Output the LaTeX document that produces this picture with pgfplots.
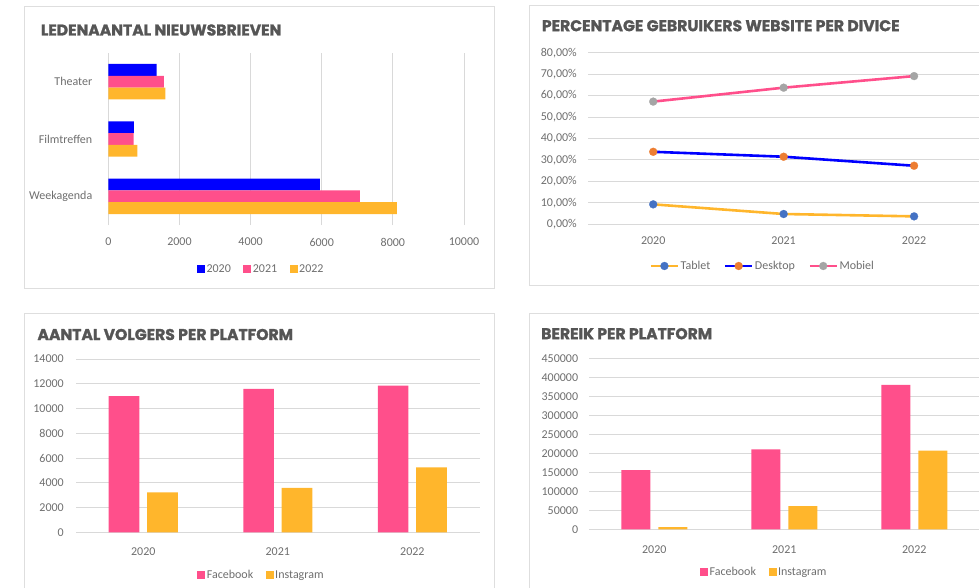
\documentclass[border=0pt]{standalone}
\usepackage{pgfplots}
\pgfplotsset{compat=1.18}
\usepackage{fontspec}
\setmainfont{Carlito}
\newfontfamily\titlefont{Poppins}[BoldFeatures={FakeBold=1.4}]
\definecolor{cblue}{RGB}{0,0,255}
\definecolor{cpink}{RGB}{255,79,139}
\definecolor{cyellow}{RGB}{255,182,44}
\definecolor{mblue}{RGB}{68,114,196}
\definecolor{morange}{RGB}{237,125,49}
\definecolor{mgray}{RGB}{165,165,165}
\definecolor{gridgray}{RGB}{217,217,217}
\definecolor{framegray}{RGB}{222,222,222}
\definecolor{labelgray}{RGB}{110,110,110}
\definecolor{titlegray}{RGB}{85,85,85}
\pgfplotsset{
  base/.style={scale only axis, anchor=south west,
    axis line style={draw=none}, tick style={draw=none},
    grid style={draw=gridgray, line width=1pt},
    tick label style={font=\fontsize{12}{14}\selectfont, text=labelgray, inner sep=0pt},
    /pgf/number format/assume math mode=true,
    /pgf/number format/1000 sep={},
    scaled ticks=false,
    legend style={draw=none, fill=none, inner sep=0pt, font=\fontsize{12}{14}\selectfont,
      text=labelgray, anchor=center, /tikz/every even column/.append style={column sep=11pt},
      nodes={inner sep=1.5pt}},
    legend columns=-1,
  },
  sq/.style={legend image code/.code={\fill[##1, draw=none] (0pt,-4pt) rectangle (8pt,4pt);}},
  ln/.style={legend image code/.code={\draw[mark repeat=2,mark phase=2,##1] plot coordinates {(0pt,0pt)(13.5pt,0pt)(27pt,0pt)};}},
}
\tikzset{ttl/.style={anchor=west, inner sep=0pt, text=titlegray, font=\titlefont\bfseries\fontsize{15.6}{17}\selectfont}}
\begin{document}
\begin{tikzpicture}[x=1pt,y=1pt]
\useasboundingbox (0,0) rectangle (979,587);
% frames
\draw[framegray, line width=1pt] (24,580.3) rectangle (494,298.7);
\draw[framegray, line width=1pt] (529.3,581) rectangle (995,301.3);
\draw[framegray, line width=1pt] (24,274) rectangle (494,-10);
\draw[framegray, line width=1pt] (529.3,274) rectangle (995,-10);
% titles
\node[ttl] at (40.7,557) {LEDENAANTAL NIEUWSBRIEVEN};
\node[ttl] at (541.7,561.3) {PERCENTAGE GEBRUIKERS WEBSITE PER DIVICE};
\node[ttl] at (37.3,252.5) {AANTAL VOLGERS PER PLATFORM};
\node[ttl] at (541,253.3) {BEREIK PER PLATFORM};

% chart 1
\begin{axis}[base, at={(108.3pt,362pt)}, width=355.7pt, height=172pt,
  xbar, bar width=11.8pt, sq,
  xmin=0, xmax=10000, ymin=-0.5, ymax=2.5,
  ytick={0,1,2}, yticklabels={Weekagenda,Filmtreffen,Theater},
  xtick={0,2000,4000,6000,8000,10000},
  xmajorgrids,
  yticklabel style={anchor=east, xshift=-11.6pt},
  xticklabel style={anchor=center, yshift=-17pt},
  legend style={at={(0.4293,-0.2558)}},
]
\addplot[fill=cblue, draw=none, bar shift=11.8pt] coordinates {(5950,0) (720,1) (1360,2)};
\addplot[fill=cpink, draw=none, bar shift=0pt] coordinates {(7070,0) (715,1) (1560,2)};
\addplot[fill=cyellow, draw=none, bar shift=-11.8pt] coordinates {(8110,0) (820,1) (1605,2)};
\legend{2020,2021,2022}
\end{axis}

% chart 2
\begin{axis}[base, ln, at={(588pt,362.7pt)}, width=391.3pt, height=171.6pt,
  xmin=-0.5, xmax=2.5, ymin=0, ymax=80,
  ytick={0,10,20,30,40,50,60,70,80},
  xtick={0,1,2}, xticklabels={2020,2021,2022},
  ymajorgrids,
  yticklabel={\pgfmathprintnumber[fixed,fixed zerofill,precision=2,use comma]{\tick}\%},
  yticklabel style={anchor=east, xshift=-11pt},
  xticklabel style={anchor=center, yshift=-16pt},
  legend style={at={(0.446,-0.243)}, /tikz/every even column/.append style={column sep=12pt}},
]
\addplot[color=cyellow, line width=2.6pt, mark=*, mark size=4pt, mark options={draw=mblue, fill=mblue, line width=0.2pt}] coordinates {(0,9.3) (1,4.8) (2,3.7)};
\addplot[color=cblue, line width=2.6pt, mark=*, mark size=4pt, mark options={draw=morange, fill=morange, line width=0.2pt}] coordinates {(0,33.8) (1,31.5) (2,27.3)};
\addplot[color=cpink, line width=2.6pt, mark=*, mark size=4pt, mark options={draw=mgray, fill=mgray, line width=0.2pt}] coordinates {(0,57.2) (1,63.7) (2,69.1)};
\legend{Tablet,Desktop,Mobiel}
\end{axis}

% chart 3
\begin{axis}[base, at={(76pt,54.7pt)}, width=403.6pt, height=173.3pt,
  ybar, bar width=30.7pt, sq,
  xmin=-0.5, xmax=2.5, ymin=0, ymax=14000,
  ytick={0,2000,4000,6000,8000,10000,12000,14000},
  xtick={0,1,2}, xticklabels={2020,2021,2022},
  ymajorgrids,
  yticklabel style={anchor=east, xshift=-12pt},
  xticklabel style={anchor=center, yshift=-15.4pt},
  legend style={at={(0.459,-0.249)}},
]
\addplot[fill=cpink, draw=none, bar shift=-19.2pt] coordinates {(0,11010) (1,11580) (2,11845)};
\addplot[fill=cyellow, draw=none, bar shift=19.2pt] coordinates {(0,3230) (1,3580) (2,5250)};
\legend{Facebook,Instagram}
\end{axis}

% chart 4
\begin{axis}[base, at={(589.3pt,57.7pt)}, width=390pt, height=171pt,
  ybar, bar width=29pt, sq,
  xmin=-0.5, xmax=2.5, ymin=0, ymax=450000,
  ytick={0,50000,100000,150000,200000,250000,300000,350000,400000,450000},
  yticklabel={\pgfmathprintnumber[fixed,precision=0,1000 sep={}]{\tick}},
  xtick={0,1,2}, xticklabels={2020,2021,2022},
  ymajorgrids,
  yticklabel style={anchor=east, xshift=-11pt},
  xticklabel style={anchor=center, yshift=-15.7pt},
  legend style={at={(0.448,-0.251)}},
]
\addplot[fill=cpink, draw=none, bar shift=-18.5pt] coordinates {(0,156000) (1,210500) (2,380000)};
\addplot[fill=cyellow, draw=none, bar shift=18.5pt] coordinates {(0,6000) (1,61300) (2,206800)};
\legend{Facebook,Instagram}
\end{axis}
\end{tikzpicture}
\end{document}
